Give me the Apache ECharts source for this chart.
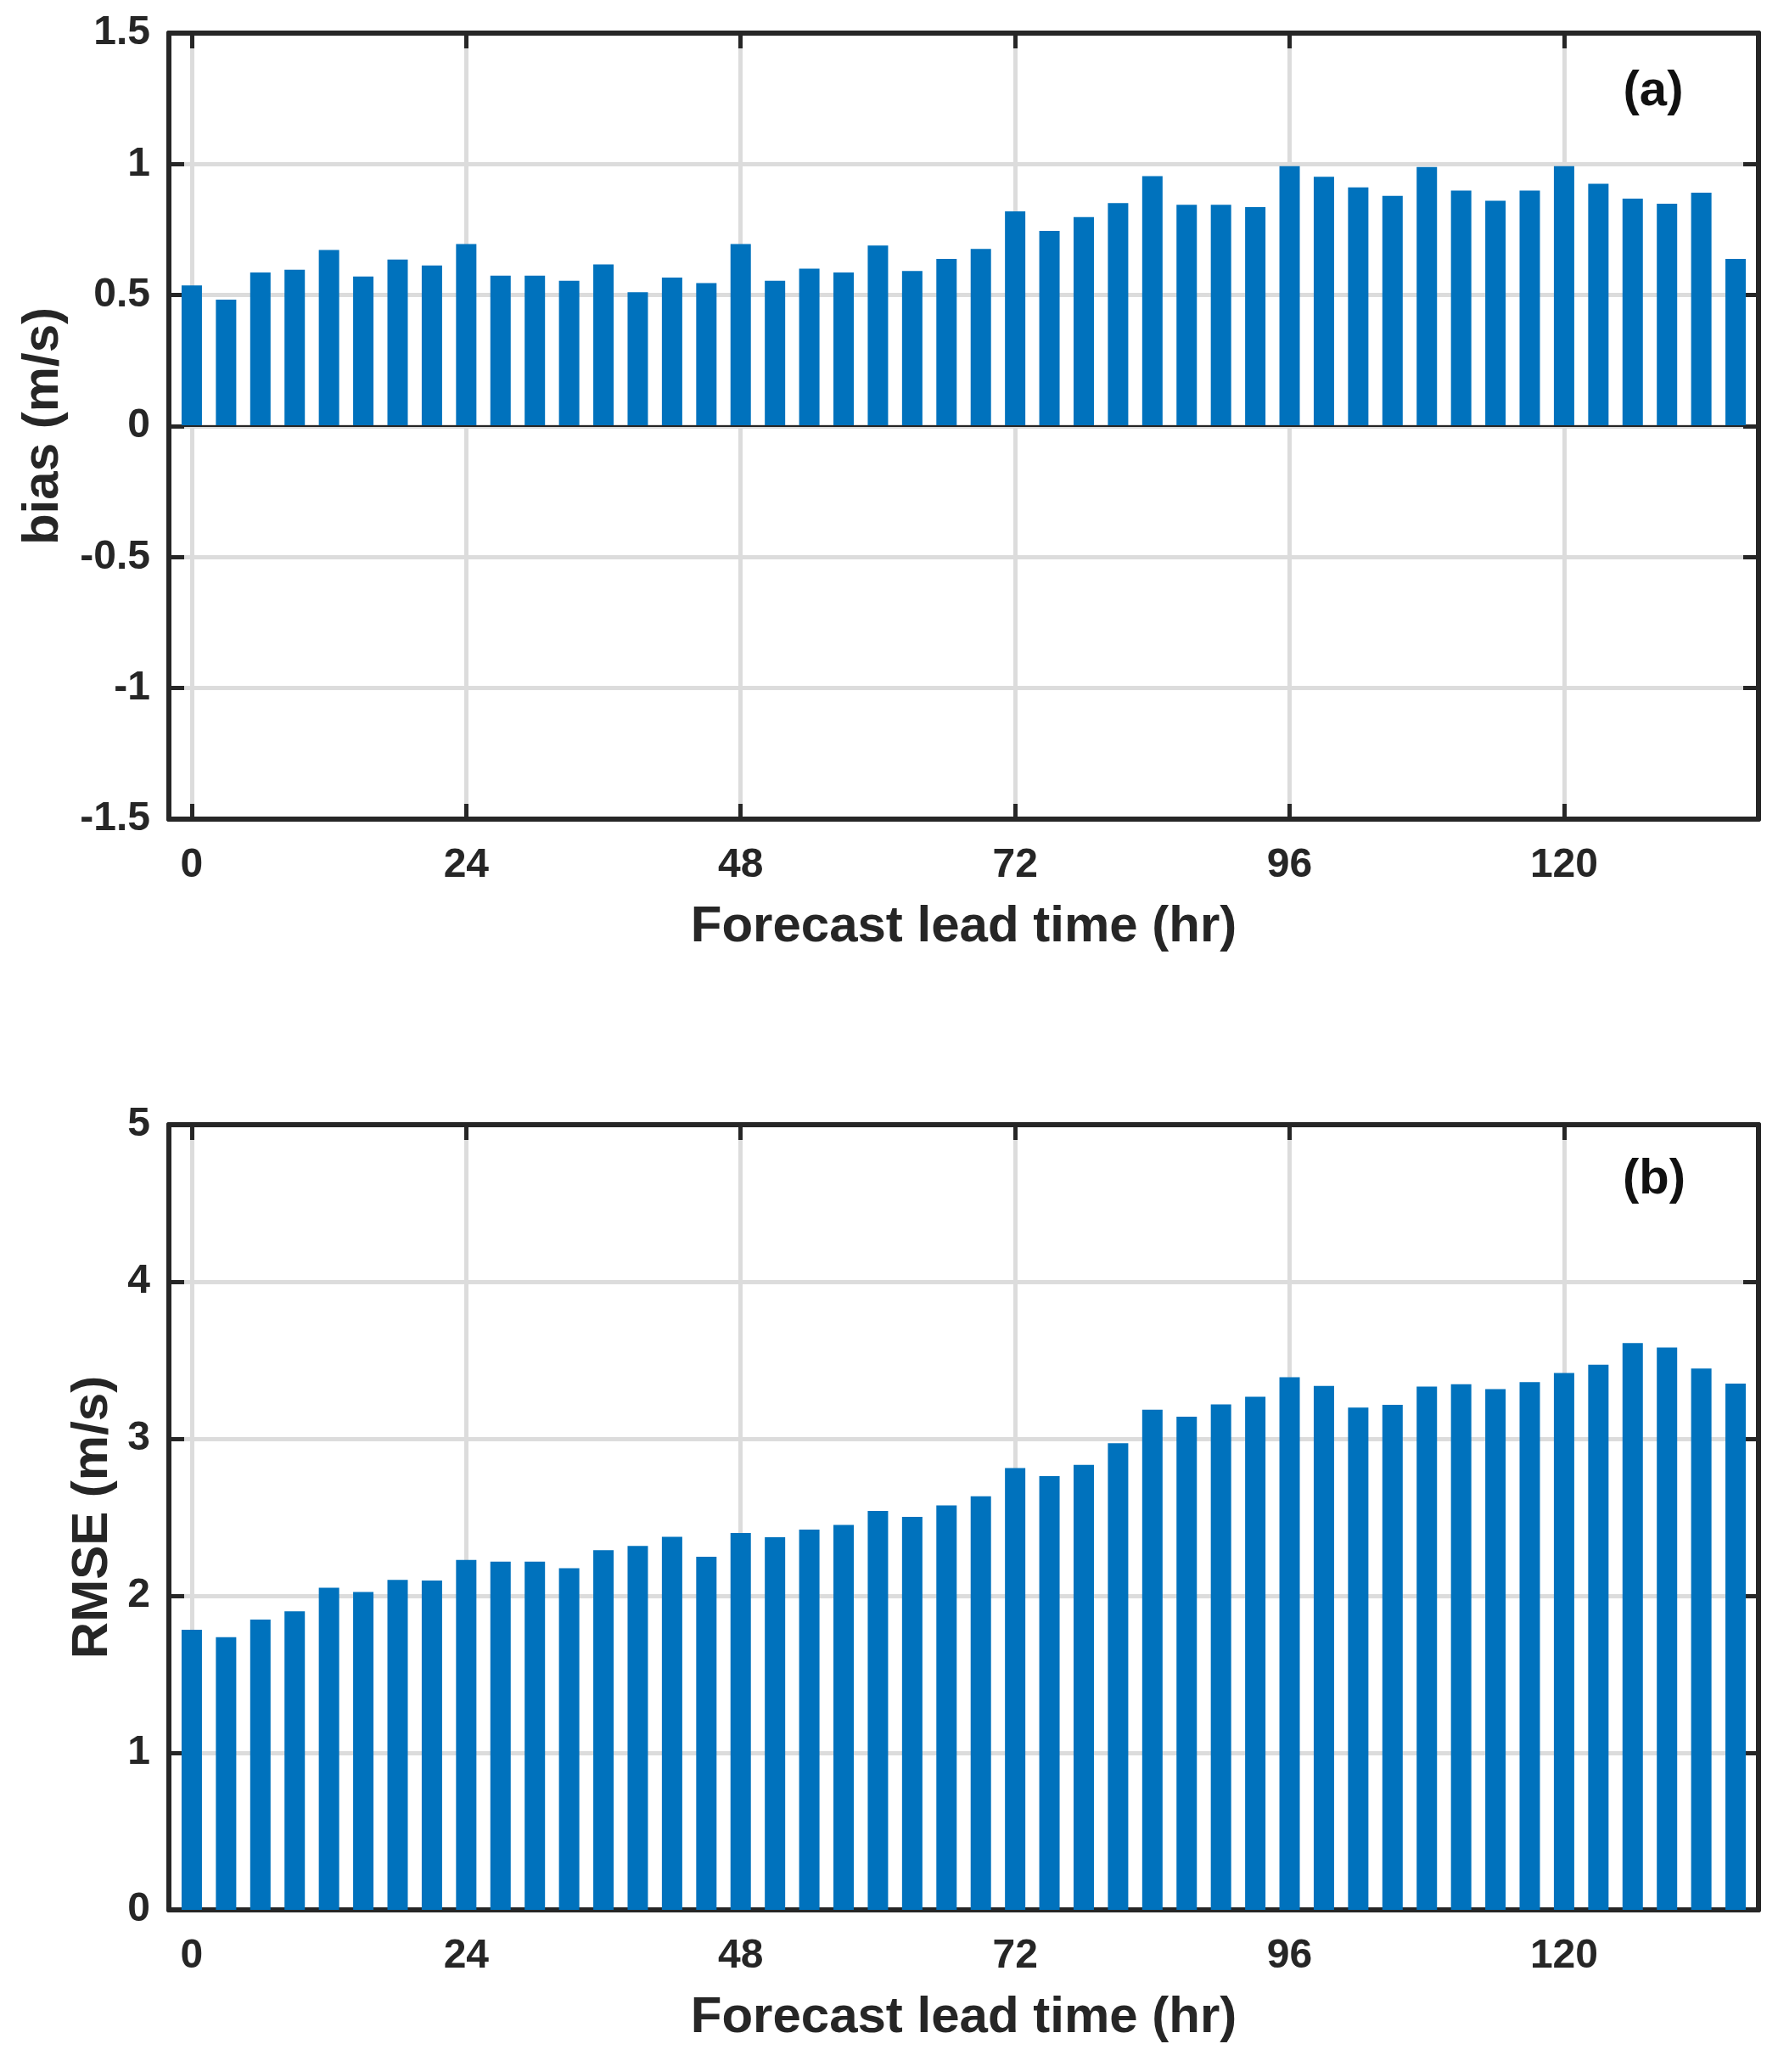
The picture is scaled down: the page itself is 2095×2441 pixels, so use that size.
<!DOCTYPE html>
<html>
<head>
<meta charset="utf-8">
<script src="https://cdn.jsdelivr.net/npm/echarts@6/dist/echarts.min.js"></script>
<style>
  html, body { margin: 0; padding: 0; background: #fff; }
  #chart { width: 2095px; height: 2441px; }
</style>
</head>
<body>
<div id="chart"></div>
<script>
// lead times (hr), one bar every 3 h
var hours = [0, 3, 6, 9, 12, 15, 18, 21, 24, 27, 30, 33, 36, 39, 42, 45,
  48, 51, 54, 57, 60, 63, 66, 69, 72, 75, 78, 81, 84, 87, 90, 93,
  96, 99, 102, 105, 108, 111, 114, 117, 120, 123, 126, 129, 132, 135];

// panel (a) bias (m/s)
var bias = [0.537, 0.483, 0.586, 0.597, 0.672, 0.571, 0.636, 0.613, 0.695, 0.574,
  0.574, 0.555, 0.617, 0.511, 0.567, 0.546, 0.695, 0.555, 0.601, 0.586,
  0.689, 0.592, 0.638, 0.676, 0.820, 0.745, 0.798, 0.851, 0.954, 0.845,
  0.845, 0.836, 0.992, 0.952, 0.911, 0.879, 0.989, 0.899, 0.860, 0.899,
  0.992, 0.925, 0.868, 0.849, 0.891, 0.638];

// panel (b) RMSE (m/s)
var rmse = [1.784, 1.736, 1.849, 1.901, 2.052, 2.025, 2.101, 2.097, 2.228, 2.218,
  2.218, 2.176, 2.290, 2.317, 2.376, 2.249, 2.400, 2.373, 2.421, 2.452,
  2.541, 2.503, 2.576, 2.634, 2.813, 2.762, 2.834, 2.972, 3.185, 3.140,
  3.219, 3.268, 3.392, 3.337, 3.199, 3.216, 3.333, 3.347, 3.316, 3.361,
  3.419, 3.471, 3.609, 3.581, 3.447, 3.351];

var xTicks = [0, 24, 48, 72, 96, 120];
var xRange = [-2, 137];

var FONT = '"Liberation Sans", Arial, sans-serif';
var INK = '#262626';
var BLUE = '#0072BD';
var GRID = '#dcdcdc';

function pairs(xs, ys) {
  return xs.map(function (x, i) { return [x, ys[i]]; });
}

function xAxisFor(gridIndex, top) {
  return {
    type: 'value',
    gridIndex: gridIndex,
    position: top ? 'top' : 'bottom',
    min: xRange[0],
    max: xRange[1],
    name: top ? '' : 'Forecast lead time (hr)',
    nameLocation: 'middle',
    nameGap: 97,
    nameTextStyle: { fontFamily: FONT, fontSize: 60, fontWeight: 'bold', color: INK },
    axisLine: { show: true, onZero: false, lineStyle: { color: INK, width: 6 } },
    axisTick: { show: true, inside: true, length: 18, customValues: xTicks,
      lineStyle: { color: INK, width: 5 } },
    axisLabel: { show: !top, margin: 31, customValues: xTicks,
      fontFamily: FONT, fontSize: 48, fontWeight: 'bold', color: INK },
    splitLine: { show: !top, lineStyle: { color: GRID, width: 5 } }
  };
}

function yAxisFor(gridIndex, right, min, max, step, name, gap) {
  return {
    type: 'value',
    gridIndex: gridIndex,
    position: right ? 'right' : 'left',
    min: min,
    max: max,
    interval: step,
    name: right ? '' : name,
    nameLocation: 'middle',
    nameGap: gap,
    nameTextStyle: { fontFamily: FONT, fontSize: 60, fontWeight: 'bold', color: INK },
    axisLine: { show: true, onZero: false, lineStyle: { color: INK, width: 6 } },
    axisTick: { show: true, inside: true, length: 18, lineStyle: { color: INK, width: 5 } },
    axisLabel: { show: !right, margin: 22,
      fontFamily: FONT, fontSize: 48, fontWeight: 'bold', color: INK },
    splitLine: { show: !right, lineStyle: { color: GRID, width: 5 } }
  };
}

var option = {
  animation: false,
  backgroundColor: '#fff',
  grid: [
    { left: 199, right: 23, top: 39, height: 926 },
    { left: 199, right: 23, top: 1325, height: 925 }
  ],
  xAxis: [xAxisFor(0, false), xAxisFor(0, true), xAxisFor(1, false), xAxisFor(1, true)],
  yAxis: [
    yAxisFor(0, false, -1.5, 1.5, 0.5, 'bias (m/s)', 118),
    yAxisFor(0, true, -1.5, 1.5, 0.5, '', 0),
    yAxisFor(1, false, 0, 5, 1, 'RMSE (m/s)', 59),
    yAxisFor(1, true, 0, 5, 1, '', 0)
  ],
  graphic: [
    { type: 'text', x: 1948, y: 108, style: { text: '(a)', fill: '#111',
      font: 'bold 58px ' + FONT, textAlign: 'center', textVerticalAlign: 'middle' } },
    { type: 'text', x: 1949, y: 1390, style: { text: '(b)', fill: '#111',
      font: 'bold 58px ' + FONT, textAlign: 'center', textVerticalAlign: 'middle' } }
  ],
  series: [{
    name: 'bias',
    type: 'bar',
    xAxisIndex: 0,
    yAxisIndex: 0,
    barWidth: 24,
    itemStyle: { color: BLUE },
    data: pairs(hours, bias),
    markLine: {
      silent: true,
      symbol: 'none',
      label: { show: false },
      lineStyle: { color: INK, width: 2, type: 'solid' },
      data: [{ yAxis: 0 }]
    }
  }, {
    name: 'RMSE',
    type: 'bar',
    xAxisIndex: 2,
    yAxisIndex: 2,
    barWidth: 24,
    itemStyle: { color: BLUE },
    data: pairs(hours, rmse)
  }]
};

var chart = echarts.init(document.getElementById('chart'));
chart.setOption(option);
</script>
</body>
</html>
